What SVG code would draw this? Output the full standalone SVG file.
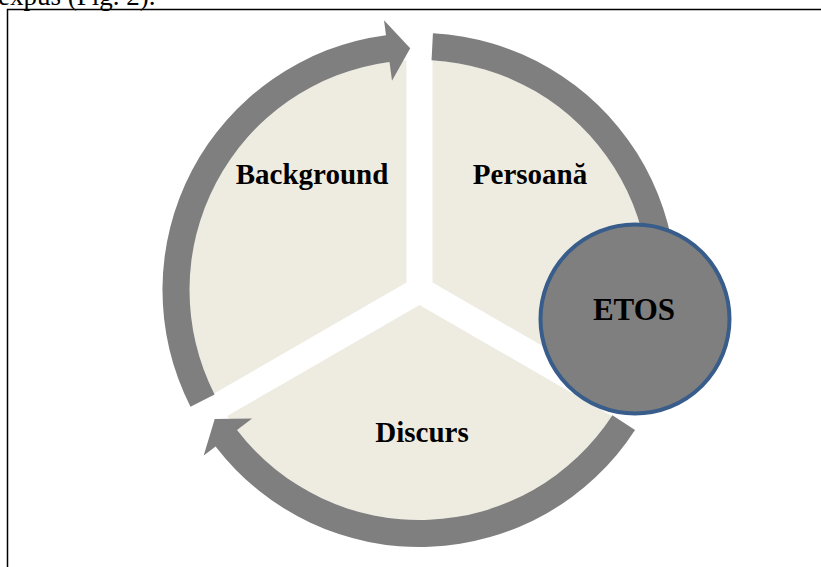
<svg xmlns="http://www.w3.org/2000/svg" width="821" height="567" viewBox="0 0 821 567">
<style>
.sector{fill:#EEECE1;stroke:none}
.arrow{fill:#7F7F7F;stroke:none}
.lbl{font-family:"Liberation Serif","Times New Roman",serif;font-weight:bold;font-size:29px;fill:#000;text-anchor:middle}
.body{font-family:"Liberation Serif","Times New Roman",serif;font-size:27px;fill:#000}
</style>
<rect width="821" height="567" fill="#FFFFFF"/>
<text class="body" x="-2" y="5">expus (Fig. 2).</text>
<path d="M7.5 567 L7.5 9.5 L821 9.5" fill="none" stroke="#000" stroke-width="1.5"/>
<g id="node-background">
<path class="sector" d="M406.5 282.5 L214.13 393.55 A230 230 0 0 1 406.5 60.37 Z"/>
<text class="lbl" x="312" y="184">Background</text>
</g>
<g id="node-persoana">
<path class="sector" d="M432.5 282.5 L432.5 60.37 A230 230 0 0 1 624.87 393.55 Z"/>
<text class="lbl" x="530" y="184">Persoană</text>
</g>
<g id="node-discurs">
<path class="sector" d="M419.5 305 L611.87 416.07 A230 230 0 0 1 227.13 416.07 Z"/>
<text class="lbl" x="422" y="442">Discurs</text>
</g>
<g id="connectors">
<path class="arrow" d="M190.5 406.7 A257 257 0 0 1 386.0 35.2 L384.0 20.3 L410.2 48.2 L392.0 80.8 L389.5 62.0 A230 230 0 0 0 214.6 394.4 Z"/>
<path class="arrow" d="M432.95 33.35 A257 257 0 0 1 656.94 388.35 L670.8 394.09 L633.57 402.86 L614.44 370.75 L631.99 378.02 A230 230 0 0 0 431.54 60.32 Z"/>
<path class="arrow" d="M635.04 429.97 A257 257 0 0 1 215.61 446.45 L203.71 455.58 L214.72 418.96 L252.1 418.45 L237.03 430.01 A230 230 0 0 0 612.39 415.27 Z"/>
</g>
<g id="node-etos">
<circle cx="635" cy="319" r="94.5" fill="#7F7F7F" stroke="#385D8A" stroke-width="4"/>
<text class="lbl" x="634" y="320" style="font-size:31px">ETOS</text>
</g>
</svg>
